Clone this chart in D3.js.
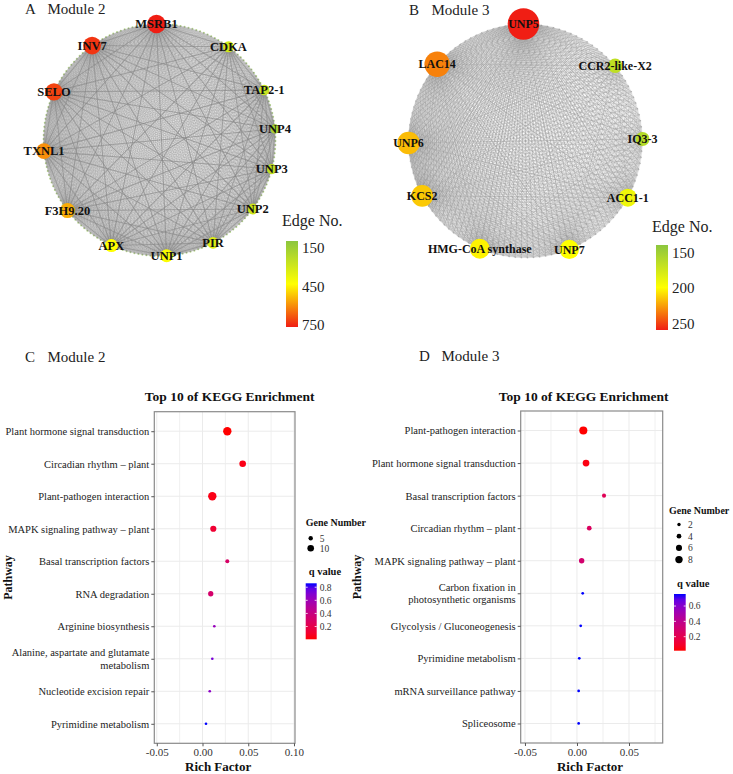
<!DOCTYPE html>
<html>
<head>
<meta charset="utf-8">
<script src="https://cdn.jsdelivr.net/npm/d3@7"></script>
<style>
  body { margin: 0; background: #fff; }
  svg { display: block; }
  text { font-family: "Liberation Serif", "Times New Roman", serif; }
</style>
</head>
<body>
<svg id="fig" width="733" height="774"></svg>
<script>
// ---- Network A (module 2): hub genes, their edge numbers, genes on the ring between hubs
const hubsA = ["MSRB1", "INV7", "SELO", "TXNL1", "F3H9.20", "APX", "UNP1", "PIR", "UNP2", "UNP3", "UNP4", "TAP2-1", "CDKA"];
const edgesA = [760, 720, 700, 600, 560, 450, 440, 360, 320, 280, 220, 300, 330];
const gapsA = [17, 15, 15, 16, 14, 14, 12, 13, 11, 10, 10, 14, 19];
const edgeTicksA = [150, 450, 750];

// ---- Network B (module 3)
const hubsB = ["UNP5", "LAC14", "UNP6", "KCS2", "HMG-CoA synthase", "UNP7", "ACC1-1", "IQ3-3", "CCR2-like-X2"];
const edgesB = [250, 228, 215, 212, 203, 200, 193, 168, 172];
const gapsB = [16, 14, 9, 13, 15, 13, 10, 13, 17];
const edgeTicksB = [150, 200, 250];

// ---- KEGG enrichment, module 2
const pathC = ["Plant hormone signal transduction", "Circadian rhythm \u2013 plant", "Plant-pathogen interaction",
  "MAPK signaling pathway \u2013 plant", "Basal transcription factors", "RNA degradation", "Arginine biosynthesis",
  "Alanine, aspartate and glutamate\nmetabolism", "Nucleotide excision repair", "Pyrimidine metabolism"];
const richC = [0.0271, 0.0439, 0.0107, 0.0118, 0.0271, 0.0090, 0.0129, 0.0107, 0.0079, 0.0038];
const geneC = [14, 10, 14, 9, 4, 7, 1, 1, 1, 1];
const qC = [0.005, 0.04, 0.04, 0.12, 0.30, 0.32, 0.62, 0.72, 0.66, 0.86];
const xTicksC = [-0.05, 0, 0.05, 0.10];
const sizeTicksC = [5, 10];
const qTicksC = [0.2, 0.4, 0.6, 0.8];

// ---- KEGG enrichment, module 3
const pathD = ["Plant-pathogen interaction", "Plant hormone signal transduction", "Basal transcription factors",
  "Circadian rhythm \u2013 plant", "MAPK signaling pathway \u2013 plant", "Carbon fixation in\nphotosynthetic organisms",
  "Glycolysis / Gluconeogenesis", "Pyrimidine metabolism", "mRNA surveillance pathway", "Spliceosome"];
const richD = [0.0061, 0.0087, 0.0260, 0.0118, 0.0045, 0.0055, 0.0036, 0.0022, 0.0016, 0.0016];
const geneD = [9, 7, 3, 4, 5, 1, 1, 1, 1, 1];
const qD = [0.017, 0.04, 0.22, 0.25, 0.30, 0.757, 0.757, 0.757, 0.757, 0.757];
const xTicksD = [-0.05, 0, 0.05];
const sizeTicksD = [2, 4, 6, 8];
const qTicksD = [0.2, 0.4, 0.6];

const svg = d3.select("#fig");
const defs = svg.append("defs");

// panel titles
function panelTitle(letter, label, x, y) {
  svg.append("text").attr("x", x).attr("y", y).attr("font-size", 15).attr("fill", "#222").text(letter);
  svg.append("text").attr("x", x + 22.5).attr("y", y).attr("font-size", 15).attr("fill", "#222").text(label);
}

// ---------- circular co-expression network ----------
function drawNetwork(o) {
  const g = svg.append("g");
  const nGenes = d3.sum(o.gaps);
  const ang = d3.scaleLinear().domain([0, nGenes]).range([o.start, o.start - 2 * Math.PI]);
  const slots = d3.cumsum([0].concat(o.gaps.slice(0, -1)));
  const px = s => o.cx + o.R * Math.cos(ang(s));
  const py = s => o.cy + o.R * Math.sin(ang(s));
  const color = d3.scaleLinear().domain(o.ticks).range(["#8cc63f", "#ffff00", "#f01e14"]).clamp(true);
  const alpha = d3.scaleLinear().domain(d3.extent(o.edges)).range(o.alpha);
  const genes = d3.range(nGenes);
  const nodes = o.hubs.map((name, i) => ({ name, e: o.edges[i], s: slots[i] }));

  // ring genes
  if (o.ringColor) {
    g.append("g").selectAll("circle").data(genes).join("circle")
      .attr("cx", px).attr("cy", py).attr("r", 1)
      .attr("fill", o.ringColor).attr("opacity", 0.55);
  }

  // edges from every hub to the ring genes
  nodes.forEach(n => {
    g.append("g").selectAll("line").data(genes).join("line")
      .attr("x1", px(n.s)).attr("y1", py(n.s))
      .attr("x2", px).attr("y2", py)
      .attr("stroke", o.edgeColor)
      .attr("stroke-width", o.edgeWidth)
      .attr("stroke-opacity", alpha(n.e));
  });

  // hub-to-hub edges
  const pairs = d3.cross(nodes, nodes).filter(([a, b]) => a.s < b.s);
  g.append("g").selectAll("line").data(pairs).join("line")
    .attr("x1", d => px(d[0].s)).attr("y1", d => py(d[0].s))
    .attr("x2", d => px(d[1].s)).attr("y2", d => py(d[1].s))
    .attr("stroke", o.hubEdgeColor).attr("stroke-width", 1.1).attr("stroke-opacity", o.hubEdgeAlpha);

  // hub nodes
  const hub = g.append("g").selectAll("g").data(nodes).join("g")
    .attr("transform", d => `translate(${px(d.s)},${py(d.s)})`);
  hub.append("circle").attr("r", d => o.radius(d.e)).attr("fill", d => color(d.e));
  hub.append("text")
    .attr("text-anchor", "middle").attr("dy", "0.35em")
    .attr("font-size", o.labelSize).attr("font-weight", "bold").attr("fill", "#111")
    .text(d => d.name);

  // legend
  const lg = g.append("g");
  lg.append("text").attr("x", o.leg.x - 4).attr("y", o.leg.titleY).attr("font-size", 16).attr("fill", "#222").text("Edge No.");
  const gid = "grad" + o.id;
  const grad = defs.append("linearGradient").attr("id", gid).attr("x1", 0).attr("x2", 0).attr("y1", 0).attr("y2", 1);
  const tv = d3.scaleLinear().domain([0, 1]).range([o.ticks[0], o.ticks[2]]);
  d3.range(0, 1.0001, 0.1).forEach(t => grad.append("stop").attr("offset", t).attr("stop-color", color(tv(t))));
  lg.append("rect").attr("x", o.leg.x).attr("y", o.leg.y).attr("width", o.leg.w).attr("height", o.leg.h)
    .attr("fill", `url(#${gid})`);
  const ly = d3.scaleLinear().domain([o.ticks[0], o.ticks[2]]).range(o.leg.labRange);
  lg.selectAll("text.lab").data(o.ticks).join("text").attr("class", "lab")
    .attr("x", o.leg.x + o.leg.w + 4).attr("y", ly).attr("dy", "0.35em")
    .attr("font-size", 15).attr("fill", "#222").text(d => d);
}

// ---------- KEGG bubble chart ----------
function drawBubble(o) {
  const g = svg.append("g");
  const x = d3.scaleLinear().domain(o.xDomain).range([o.left, o.right]);
  const y = d3.scalePoint().domain(o.paths).range([o.top, o.bottom]).padding(0.6);
  const qExt = d3.extent(o.q);
  const col = d3.scaleLinear().domain(qExt).range(["#ff0000", "#0000ff"]).interpolate(d3.interpolateLab);
  const r = d3.scaleLinear().domain([o.sizeTicks[0], o.sizeTicks[o.sizeTicks.length - 1]]).range(o.sizeR);

  // grid
  const step = o.xTicks[1] - o.xTicks[0];
  const minor = d3.range(o.xTicks[0] + step / 2, o.xDomain[1], step);
  g.append("g").selectAll("line").data(minor).join("line")
    .attr("x1", x).attr("x2", x).attr("y1", o.top).attr("y2", o.bottom)
    .attr("stroke", "#ececec").attr("stroke-width", 0.8);
  g.append("g").selectAll("line").data(o.xTicks).join("line")
    .attr("x1", x).attr("x2", x).attr("y1", o.top).attr("y2", o.bottom)
    .attr("stroke", "#ebebeb").attr("stroke-width", 1);
  g.append("g").selectAll("line").data(o.paths).join("line")
    .attr("x1", o.left).attr("x2", o.right).attr("y1", y).attr("y2", y)
    .attr("stroke", "#ebebeb").attr("stroke-width", 1);

  // points
  const rows = o.paths.map((p, i) => ({ p, rich: o.rich[i], n: o.genes[i], q: o.q[i] }));
  g.append("g").selectAll("circle").data(rows).join("circle")
    .attr("cx", d => x(d.rich)).attr("cy", d => y(d.p))
    .attr("r", d => Math.max(1.1, r(d.n)))
    .attr("fill", d => col(d.q));

  // panel border
  g.append("rect").attr("x", o.left).attr("y", o.top)
    .attr("width", o.right - o.left).attr("height", o.bottom - o.top)
    .attr("fill", "none").attr("stroke", "#8a8a8a").attr("stroke-width", 1.2);

  // axes
  const ax = g.append("g").attr("transform", `translate(0,${o.bottom})`)
    .call(d3.axisBottom(x).tickValues(o.xTicks).tickSize(3).tickPadding(2).tickFormat(d => d.toFixed(2)));
  ax.select(".domain").remove();
  ax.selectAll("line").attr("stroke", "#555");
  ax.selectAll("text").attr("font-size", 11).attr("fill", "#333")
    .style("font-family", "'Liberation Serif', serif");

  const ay = g.append("g").attr("transform", `translate(${o.left},0)`)
    .call(d3.axisLeft(y).tickSize(3).tickPadding(2));
  ay.select(".domain").remove();
  ay.selectAll("line").attr("stroke", "#555");
  ay.selectAll("text").attr("font-size", 10.5).attr("fill", "#222")
    .style("font-family", "'Liberation Serif', serif")
    .each(function (d) {
      const lines = d.split("\n");
      if (lines.length < 2) return;
      const t = d3.select(this).text(null).attr("dy", null);
      lines.forEach((l, i) => t.append("tspan").attr("x", -5)
        .attr("dy", i === 0 ? "-0.28em" : "1.19em").text(l));
    });

  // titles
  g.append("text").attr("x", (o.left + o.right) / 2 + o.titleShift).attr("y", 401)
    .attr("text-anchor", "middle").attr("font-size", 13.5).attr("font-weight", "bold").attr("fill", "#111")
    .text("Top 10 of KEGG Enrichment");
  g.append("text").attr("x", (o.left + o.right) / 2 + o.xLabShift).attr("y", 771)
    .attr("text-anchor", "middle").attr("font-size", 13).attr("font-weight", "bold").attr("fill", "#111")
    .text("Rich Factor");
  g.append("text").attr("transform", `translate(${o.yLabX},${(o.top + o.bottom) / 2}) rotate(-90)`)
    .attr("text-anchor", "middle").attr("dy", "0.35em").attr("font-size", 12).attr("font-weight", "bold").attr("fill", "#111")
    .text("Pathway");

  // size legend
  const L = o.leg;
  g.append("text").attr("x", L.titleX).attr("y", L.sizeTitleY).attr("font-size", 10).attr("font-weight", "bold")
    .attr("fill", "#111").text("Gene Number");
  const sl = g.append("g").selectAll("g").data(o.sizeTicks).join("g")
    .attr("transform", (d, i) => `translate(${L.dotX},${L.sizeY0 + i * L.sizeStep})`);
  sl.append("circle").attr("r", d => r(d)).attr("fill", "#000");
  sl.append("text").attr("x", 9).attr("dy", "0.35em").attr("font-size", 9.5).attr("fill", "#333").text(d => d);

  // colour bar
  g.append("text").attr("x", L.x + 3).attr("y", L.qTitleY).attr("font-size", 10.5).attr("font-weight", "bold")
    .attr("fill", "#111").text("q value");
  const gid = "qgrad" + o.id;
  const grad = defs.append("linearGradient").attr("id", gid).attr("x1", 0).attr("x2", 0).attr("y1", 1).attr("y2", 0);
  const tq = d3.scaleLinear().domain([0, 1]).range(qExt);
  d3.range(0, 1.0001, 0.1).forEach(t => grad.append("stop").attr("offset", t).attr("stop-color", col(tq(t))));
  g.append("rect").attr("x", L.x).attr("y", L.barTop).attr("width", L.barW).attr("height", L.barH)
    .attr("fill", `url(#${gid})`);
  const qy = d3.scaleLinear().domain(qExt).range([L.barTop + L.barH, L.barTop]);
  const qt = g.append("g").selectAll("g").data(o.qTicks).join("g").attr("transform", d => `translate(0,${qy(d)})`);
  qt.append("line").attr("x1", L.x).attr("x2", L.x + 2).attr("stroke", "#fff").attr("stroke-width", 0.8);
  qt.append("line").attr("x1", L.x + L.barW - 2).attr("x2", L.x + L.barW).attr("stroke", "#fff").attr("stroke-width", 0.8);
  qt.append("text").attr("x", L.x + L.barW + 3).attr("dy", "0.35em").attr("font-size", 9.5).attr("fill", "#333").text(d => d);
}

panelTitle("A", "Module 2", 25, 14);
panelTitle("B", "Module 3", 409, 15);
panelTitle("C", "Module 2", 25, 361.5);
panelTitle("D", "Module 3", 419, 361);

drawNetwork({
  id: "A", hubs: hubsA, edges: edgesA, gaps: gapsA, ticks: edgeTicksA,
  cx: 159.5, cy: 140, R: 116, start: -91.5 * Math.PI / 180,
  radius: d3.scaleLinear().domain([150, 760]).range([4, 9.2]),
  alpha: [0.07, 0.17], edgeColor: "#7a7a7a", edgeWidth: 0.8,
  hubEdgeColor: "#858585", hubEdgeAlpha: 0.55, ringColor: "#8cc63f",
  labelSize: 12.5,
  leg: { x: 286, y: 241, w: 12, h: 86, titleY: 226, labRange: [248, 325] }
});

drawNetwork({
  id: "B", hubs: hubsB, edges: edgesB, gaps: gapsB, ticks: edgeTicksB,
  cx: 525.5, cy: 141, R: 117, start: -91 * Math.PI / 180,
  radius: d3.scalePow().exponent(3).domain([150, 250]).range([5.9, 15.8]),
  alpha: [0.12, 0.6], edgeColor: "#8c8c8c", edgeWidth: 0.6,
  hubEdgeColor: "#a8a8a8", hubEdgeAlpha: 0.25, ringColor: null,
  labelSize: 12,
  leg: { x: 656, y: 245, w: 12, h: 85, titleY: 232, labRange: [252.7, 323.3] }
});

drawBubble({
  id: "C", paths: pathC, rich: richC, genes: geneC, q: qC,
  xDomain: [-0.0527, 0.1011], xTicks: xTicksC, sizeTicks: sizeTicksC, qTicks: qTicksC,
  left: 154.3, right: 295, top: 411.7, bottom: 743.3,
  sizeR: [2.2, 3.3], titleShift: 5, xLabShift: -6.5, yLabX: 8,
  leg: { x: 305.7, titleX: 305.7, dotX: 310.7, sizeTitleY: 526.3, sizeY0: 538.3, sizeStep: 10,
         qTitleY: 574.5, barTop: 583.3, barW: 11, barH: 56 }
});

drawBubble({
  id: "D", paths: pathD, rich: richD, genes: geneD, q: qD,
  xDomain: [-0.0541, 0.0824], xTicks: xTicksD, sizeTicks: sizeTicksD, qTicks: qTicksD,
  left: 520.7, right: 662.7, top: 411, bottom: 743,
  sizeR: [1.7, 3.7], titleShift: -8, xLabShift: -1.7, yLabX: 356.7,
  leg: { x: 674, titleX: 669, dotX: 679, sizeTitleY: 514.3, sizeY0: 524.5, sizeStep: 11.7,
         qTitleY: 587, barTop: 594, barW: 11.7, barH: 56.7 }
});
</script>
</body>
</html>
